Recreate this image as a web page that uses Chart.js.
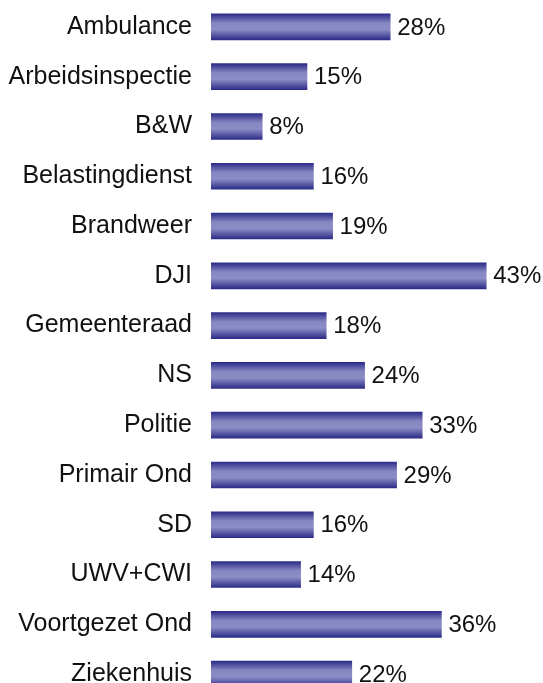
<!DOCTYPE html>
<html>
<head>
<meta charset="utf-8">
<script src="https://cdn.jsdelivr.net/npm/chart.js@4.4.0/dist/chart.umd.min.js"></script>
<style>
  html, body { margin: 0; padding: 0; background: #fff; overflow: hidden; }
  #wrap { width: 543px; height: 700px; }
</style>
</head>
<body>
<div id="wrap"><canvas id="chart" width="543" height="700"></canvas></div>
<script>
// Data
const categories = ['Ambulance', 'Arbeidsinspectie', 'B&W', 'Belastingdienst', 'Brandweer', 'DJI',
    'Gemeenteraad', 'NS', 'Politie', 'Primair Ond', 'SD', 'UWV+CWI', 'Voortgezet Ond', 'Ziekenhuis'];
const percentages = [28, 15, 8, 16, 19, 43, 18, 24, 33, 29, 16, 14, 36, 22];

const FONT = '"Liberation Sans", Arial, Helvetica, sans-serif';
const BAR_H = 26;

// vertical gradient per bar: dark edges, light middle
function barGradient(context) {
    const chart = context.chart;
    if (!chart.chartArea || context.dataIndex === undefined) return '#6a6ab0';
    const y = chart.scales.y.getPixelForValue(context.dataIndex);
    const g = chart.ctx.createLinearGradient(0, y - BAR_H / 2, 0, y + BAR_H / 2);
    g.addColorStop(0, '#2c2c88');
    g.addColorStop(0.35, '#8686c2');
    g.addColorStop(0.6, '#8c8cc6');
    g.addColorStop(1, '#2c2c88');
    return g;
}

// Draw value labels at end of bars
const valueLabels = {
    id: 'valueLabels',
    afterDatasetsDraw(chart) {
        const ctx = chart.ctx;
        const meta = chart.getDatasetMeta(0);
        ctx.save();
        ctx.font = '24px ' + FONT;
        ctx.fillStyle = '#111';
        ctx.textAlign = 'left';
        ctx.textBaseline = 'middle';
        meta.data.forEach((bar, i) => {
            ctx.fillText(percentages[i] + '%', bar.x + 7, bar.y + 1);
        });
        ctx.restore();
    }
};

const ctx = document.getElementById('chart').getContext('2d');
const chart = new Chart(ctx, {
    type: 'bar',
    data: {
        labels: categories,
        datasets: [{
            data: percentages,
            backgroundColor: barGradient,
            borderWidth: 0,
            barThickness: BAR_H
        }]
    },
    options: {
        indexAxis: 'y',
        responsive: false,
        animation: false,
        devicePixelRatio: 1,
        layout: { padding: { left: 0, right: 12, top: 2, bottom: 1 } },
        plugins: {
            legend: { display: false },
            tooltip: { enabled: false }
        },
        scales: {
            x: {
                display: false,
                min: 0,
                max: 50
            },
            y: {
                border: { display: false },
                grid: { display: false, drawTicks: false },
                ticks: {
                    color: '#111',
                    padding: 19,
                    font: { family: FONT, size: 25 }
                },
                afterFit(scale) {
                    scale.width = 211;
                    scale.paddingTop = 0;
                    scale.paddingBottom = 0;
                }
            }
        }
    },
    plugins: [valueLabels]
});
</script>
</body>
</html>
